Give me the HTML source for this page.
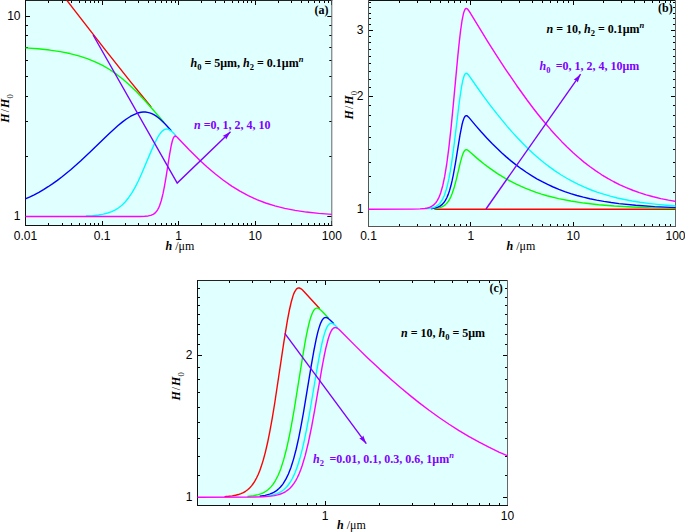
<!DOCTYPE html><html><head><meta charset="utf-8"><style>html,body{margin:0;padding:0;background:#fff;overflow:hidden;}svg{display:block}</style></head><body><svg width="685" height="532" viewBox="0 0 685 532">
<style>.tl{font-family:"Liberation Sans",sans-serif;font-size:12px;fill:#000}.ax{font-family:"Liberation Serif",serif;font-size:12px;fill:#000}.lg{font-family:"Liberation Serif",serif;font-size:12px;font-weight:bold;fill:#000}.pl{font-family:"Liberation Serif",serif;font-size:12px;font-weight:bold;fill:#8000ff}.i{font-style:italic}</style>
<rect width="685" height="532" fill="#fff"/>
<clipPath id="ca"><rect x="25.5" y="0.5" width="306.3" height="225.0"/></clipPath>
<rect x="25.5" y="0.5" width="306.3" height="225.0" fill="#e0ffff"/>
<path d="M25.50,225.5v-4.5M25.50,0.5v4.5M102.50,225.5v-4.5M102.50,0.5v4.5M178.50,225.5v-4.5M178.50,0.5v4.5M255.50,225.5v-4.5M255.50,0.5v4.5M331.50,225.5v-4.5M331.50,0.5v4.5M48.50,225.5v-2.5M48.50,0.5v2.5M62.50,225.5v-2.5M62.50,0.5v2.5M71.50,225.5v-2.5M71.50,0.5v2.5M79.50,225.5v-2.5M79.50,0.5v2.5M85.50,225.5v-2.5M85.50,0.5v2.5M90.50,225.5v-2.5M90.50,0.5v2.5M94.50,225.5v-2.5M94.50,0.5v2.5M98.50,225.5v-2.5M98.50,0.5v2.5M125.50,225.5v-2.5M125.50,0.5v2.5M138.50,225.5v-2.5M138.50,0.5v2.5M148.50,225.5v-2.5M148.50,0.5v2.5M155.50,225.5v-2.5M155.50,0.5v2.5M161.50,225.5v-2.5M161.50,0.5v2.5M166.50,225.5v-2.5M166.50,0.5v2.5M171.50,225.5v-2.5M171.50,0.5v2.5M175.50,225.5v-2.5M175.50,0.5v2.5M201.50,225.5v-2.5M201.50,0.5v2.5M215.50,225.5v-2.5M215.50,0.5v2.5M224.50,225.5v-2.5M224.50,0.5v2.5M232.50,225.5v-2.5M232.50,0.5v2.5M238.50,225.5v-2.5M238.50,0.5v2.5M243.50,225.5v-2.5M243.50,0.5v2.5M247.50,225.5v-2.5M247.50,0.5v2.5M251.50,225.5v-2.5M251.50,0.5v2.5M278.50,225.5v-2.5M278.50,0.5v2.5M291.50,225.5v-2.5M291.50,0.5v2.5M301.50,225.5v-2.5M301.50,0.5v2.5M308.50,225.5v-2.5M308.50,0.5v2.5M314.50,225.5v-2.5M314.50,0.5v2.5M319.50,225.5v-2.5M319.50,0.5v2.5M324.50,225.5v-2.5M324.50,0.5v2.5M328.50,225.5v-2.5M328.50,0.5v2.5M25.5,216.50h4.5M331.8,216.50h-4.5M25.5,16.50h4.5M331.8,16.50h-4.5M25.5,156.50h2.5M331.8,156.50h-2.5M25.5,121.50h2.5M331.8,121.50h-2.5M25.5,96.50h2.5M331.8,96.50h-2.5M25.5,76.50h2.5M331.8,76.50h-2.5M25.5,60.50h2.5M331.8,60.50h-2.5M25.5,47.50h2.5M331.8,47.50h-2.5M25.5,35.50h2.5M331.8,35.50h-2.5M25.5,25.50h2.5M331.8,25.50h-2.5" stroke="#000" stroke-width="1" fill="none"/>
<path d="M25.0,0.5H332.3" stroke="#222" stroke-width="1"/>
<path d="M331.8,0.0V226.0" stroke="#666" stroke-width="1"/>
<path d="M25.0,225.5H332.3" stroke="#111" stroke-width="1"/>
<path d="M25.5,0.0V226.0" stroke="#111" stroke-width="1"/>
<g clip-path="url(#ca)" fill="none" stroke-width="1.4" stroke-linejoin="round">
<polyline stroke="#ff0000" points="24.73,-54.48 72.65,7.83 105.28,49.85 130.63,81.89 151.15,107.05"/>
<polyline stroke="#00ff00" points="24.73,47.81 37.97,48.80 49.67,50.07 60.24,51.64 69.88,53.56 78.81,55.86 87.22,58.60 95.13,61.79 102.62,65.46 109.59,69.52 116.47,74.19 123.24,79.47 130.01,85.42 136.58,91.79 143.66,99.23 151.25,107.67 164.28,122.60"/>
<polyline stroke="#0000ff" points="24.73,199.23 29.45,197.11 34.17,194.79 38.89,192.27 43.51,189.59 48.13,186.71 52.75,183.63 57.36,180.35 62.08,176.79 71.01,169.52 80.55,161.08 89.58,152.60 108.77,134.02 117.49,126.06 122.21,122.14 126.42,119.00 130.32,116.48 134.01,114.52 136.37,113.52 138.73,112.76 140.99,112.27 143.25,112.03 145.40,112.05 147.56,112.33 149.71,112.87 151.77,113.64 153.82,114.66 155.87,115.91 158.03,117.46 160.18,119.24 164.90,123.74 171.36,130.68"/>
<polyline stroke="#00ffff" points="85.89,216.00 92.66,215.58 98.41,214.97 103.33,214.13 107.75,213.02 111.75,211.60 115.34,209.87 118.73,207.73 121.91,205.19 125.40,201.69 128.78,197.48 132.06,192.59 135.35,186.86 138.32,180.99 141.50,174.08 151.15,151.14 154.33,143.96 157.61,137.49 159.05,135.10 160.49,133.05 162.23,131.09 163.98,129.75 165.62,129.11 166.44,129.02 167.36,129.08 169.00,129.63 170.85,130.80 172.90,132.59 175.78,135.57"/>
<polyline stroke="#ff00ff" points="24.73,216.50 139.76,216.44 144.69,216.28 148.17,215.94 150.84,215.35 153.00,214.46 154.33,213.60 155.46,212.61 156.59,211.31 157.61,209.79 158.64,207.87 159.56,205.74 161.31,200.49 162.95,193.88 164.59,185.62 166.13,176.57 169.62,154.43 171.36,144.98 172.39,140.77 173.31,138.08 174.24,136.52 174.75,136.10 175.26,135.97 176.08,136.24 177.21,137.17 189.12,149.75 199.48,160.00 207.38,167.26 215.08,173.81 223.39,180.28 231.70,186.09 239.91,191.15 248.22,195.62 256.84,199.58 265.66,202.98 274.90,205.89 284.75,208.37 295.11,210.40 306.40,212.07 318.71,213.40 332.57,214.43"/>
</g>
<text x="25.50" y="240" class="tl" text-anchor="middle">0.01</text>
<text x="102.08" y="240" class="tl" text-anchor="middle">0.1</text>
<text x="178.65" y="240" class="tl" text-anchor="middle">1</text>
<text x="255.23" y="240" class="tl" text-anchor="middle">10</text>
<text x="331.80" y="240" class="tl" text-anchor="middle">100</text>
<text x="20.50" y="220.00" class="tl" text-anchor="end">1</text>
<text x="20.50" y="20.00" class="tl" text-anchor="end">10</text>
<clipPath id="cb"><rect x="368.5" y="0.5" width="307.0" height="226.0"/></clipPath>
<rect x="368.5" y="0.5" width="307.0" height="226.0" fill="#e0ffff"/>
<path d="M368.50,226.5v-4.5M368.50,0.5v4.5M470.50,226.5v-4.5M470.50,0.5v4.5M573.50,226.5v-4.5M573.50,0.5v4.5M675.50,226.5v-4.5M675.50,0.5v4.5M399.50,226.5v-2.5M399.50,0.5v2.5M417.50,226.5v-2.5M417.50,0.5v2.5M430.50,226.5v-2.5M430.50,0.5v2.5M440.50,226.5v-2.5M440.50,0.5v2.5M448.50,226.5v-2.5M448.50,0.5v2.5M454.50,226.5v-2.5M454.50,0.5v2.5M460.50,226.5v-2.5M460.50,0.5v2.5M466.50,226.5v-2.5M466.50,0.5v2.5M501.50,226.5v-2.5M501.50,0.5v2.5M519.50,226.5v-2.5M519.50,0.5v2.5M532.50,226.5v-2.5M532.50,0.5v2.5M542.50,226.5v-2.5M542.50,0.5v2.5M550.50,226.5v-2.5M550.50,0.5v2.5M557.50,226.5v-2.5M557.50,0.5v2.5M563.50,226.5v-2.5M563.50,0.5v2.5M568.50,226.5v-2.5M568.50,0.5v2.5M603.50,226.5v-2.5M603.50,0.5v2.5M621.50,226.5v-2.5M621.50,0.5v2.5M634.50,226.5v-2.5M634.50,0.5v2.5M644.50,226.5v-2.5M644.50,0.5v2.5M652.50,226.5v-2.5M652.50,0.5v2.5M659.50,226.5v-2.5M659.50,0.5v2.5M665.50,226.5v-2.5M665.50,0.5v2.5M670.50,226.5v-2.5M670.50,0.5v2.5M368.5,209.50h4.5M675.5,209.50h-4.5M368.5,96.50h4.5M675.5,96.50h-4.5M368.5,30.50h4.5M675.5,30.50h-4.5M368.5,192.50h2.5M675.5,192.50h-2.5M368.5,176.50h2.5M675.5,176.50h-2.5M368.5,162.50h2.5M675.5,162.50h-2.5M368.5,149.50h2.5M675.5,149.50h-2.5M368.5,137.50h2.5M675.5,137.50h-2.5M368.5,126.50h2.5M675.5,126.50h-2.5M368.5,115.50h2.5M675.5,115.50h-2.5M368.5,105.50h2.5M675.5,105.50h-2.5M368.5,87.50h2.5M675.5,87.50h-2.5M368.5,79.50h2.5M675.5,79.50h-2.5M368.5,71.50h2.5M675.5,71.50h-2.5M368.5,63.50h2.5M675.5,63.50h-2.5M368.5,56.50h2.5M675.5,56.50h-2.5M368.5,49.50h2.5M675.5,49.50h-2.5M368.5,42.50h2.5M675.5,42.50h-2.5M368.5,36.50h2.5M675.5,36.50h-2.5M368.5,24.50h2.5M675.5,24.50h-2.5M368.5,18.50h2.5M675.5,18.50h-2.5M368.5,13.50h2.5M675.5,13.50h-2.5M368.5,7.50h2.5M675.5,7.50h-2.5M368.5,2.50h2.5M675.5,2.50h-2.5M368.5,-2.50h2.5M675.5,-2.50h-2.5" stroke="#000" stroke-width="1" fill="none"/>
<path d="M368.0,0.5H676.0" stroke="#111" stroke-width="1"/>
<path d="M675.5,0.0V227.0" stroke="#666" stroke-width="1"/>
<path d="M368.0,226.5H676.0" stroke="#555" stroke-width="1"/>
<path d="M368.5,0.0V227.0" stroke="#555" stroke-width="1"/>
<g clip-path="url(#cb)" fill="none" stroke-width="1.4" stroke-linejoin="round">
<polyline stroke="#ff0000" points="434.44,209.20 676.52,209.20"/>
<polyline stroke="#00ff00" points="434.44,208.69 437.32,208.29 439.69,207.73 441.85,206.95 443.71,205.95 445.46,204.63 447.00,203.06 448.45,201.14 449.79,198.90 451.02,196.35 452.16,193.58 454.42,186.66 456.48,178.86 460.50,161.92 462.35,155.41 463.38,152.74 464.31,151.04 465.24,150.04 465.75,149.76 466.27,149.67 467.30,149.92 468.53,150.73 479.25,160.10 484.09,164.00 488.93,167.66 497.48,173.56 506.14,178.84 510.87,181.44 515.72,183.91 520.66,186.23 525.71,188.41 530.86,190.44 536.11,192.33 541.47,194.08 547.03,195.72 558.57,198.61 570.83,201.04 584.12,203.07 598.54,204.72 614.40,206.04 632.23,207.07 652.62,207.85 676.52,208.41"/>
<polyline stroke="#0000ff" points="431.04,208.69 434.44,208.18 437.22,207.42 439.59,206.35 441.65,204.93 443.50,203.08 445.25,200.64 446.80,197.78 448.24,194.36 449.58,190.43 450.82,186.06 452.05,180.94 453.29,175.05 455.45,163.08 459.98,135.10 461.94,125.03 463.08,120.68 464.11,117.88 465.14,116.24 465.65,115.83 466.27,115.65 466.78,115.73 467.30,115.98 468.64,117.16 475.95,125.87 481.10,131.79 486.77,138.00 492.33,143.78 501.60,152.72 506.24,156.86 510.98,160.86 516.03,164.87 521.18,168.70 526.33,172.27 531.58,175.65 536.83,178.78 542.19,181.71 547.65,184.45 553.21,187.00 558.88,189.36 564.75,191.57 570.73,193.59 576.91,195.46 583.29,197.17 589.89,198.72 596.69,200.13 603.79,201.41 611.21,202.56 618.94,203.58 635.73,205.31 654.68,206.64 676.52,207.62"/>
<polyline stroke="#00ffff" points="425.58,208.86 430.01,208.37 433.41,207.55 436.19,206.33 438.56,204.62 439.69,203.49 440.72,202.23 442.68,199.07 444.43,195.17 446.08,190.32 447.52,184.95 448.96,178.38 450.30,171.14 451.74,162.10 454.22,143.89 459.26,102.35 461.53,86.83 462.77,80.55 463.90,76.48 464.41,75.19 465.03,74.10 465.65,73.47 466.27,73.26 466.78,73.35 467.40,73.73 468.84,75.32 477.50,87.76 483.78,96.54 490.48,105.55 496.97,113.93 507.17,126.35 512.21,132.13 517.16,137.55 522.62,143.26 528.08,148.66 533.43,153.66 538.89,158.45 544.35,162.94 549.81,167.12 555.38,171.09 560.94,174.75 566.71,178.24 572.48,181.44 578.35,184.40 584.43,187.18 590.61,189.73 597.00,192.08 603.49,194.20 610.28,196.17 617.29,197.95 624.50,199.54 632.12,200.98 640.06,202.27 648.40,203.42 657.16,204.42 666.53,205.31 676.52,206.08"/>
<polyline stroke="#ff00ff" points="367.48,209.20 412.80,209.14 420.01,208.92 424.96,208.45 427.43,207.97 429.49,207.34 431.35,206.51 432.99,205.46 434.54,204.13 435.98,202.49 437.22,200.68 438.45,198.42 439.59,195.87 440.72,192.78 442.78,185.49 444.74,176.19 446.70,164.22 448.76,148.59 450.82,130.05 452.88,109.16 457.82,56.11 459.26,42.08 460.50,31.45 461.94,21.24 463.38,13.91 464.11,11.42 464.83,9.71 465.55,8.73 466.27,8.41 466.89,8.57 467.50,9.04 469.15,11.21 488.52,42.80 496.97,56.10 505.11,68.55 516.44,85.22 527.25,100.28 533.23,108.21 539.10,115.71 544.87,122.77 550.54,129.41 556.20,135.74 561.76,141.64 567.33,147.23 572.89,152.50 578.56,157.54 584.32,162.34 590.09,166.80 595.86,170.92 601.73,174.79 607.71,178.40 613.79,181.75 619.97,184.83 626.25,187.66 632.74,190.27 639.33,192.63 646.24,194.82 653.34,196.79 660.76,198.58 668.49,200.18 676.52,201.61"/>
</g>
<text x="368.50" y="240" class="tl" text-anchor="middle">0.1</text>
<text x="470.83" y="240" class="tl" text-anchor="middle">1</text>
<text x="573.17" y="240" class="tl" text-anchor="middle">10</text>
<text x="675.50" y="240" class="tl" text-anchor="middle">100</text>
<text x="363.50" y="212.70" class="tl" text-anchor="end">1</text>
<text x="363.50" y="99.81" class="tl" text-anchor="end">2</text>
<text x="363.50" y="33.78" class="tl" text-anchor="end">3</text>
<clipPath id="cc"><rect x="197.5" y="280.5" width="310.0" height="225.0"/></clipPath>
<rect x="197.5" y="280.5" width="310.0" height="225.0" fill="#e0ffff"/>
<path d="M325.50,505.5v-4.5M325.50,280.5v4.5M507.50,505.5v-4.5M507.50,280.5v4.5M197.50,505.5v-2.5M197.50,280.5v2.5M229.50,505.5v-2.5M229.50,280.5v2.5M252.50,505.5v-2.5M252.50,280.5v2.5M270.50,505.5v-2.5M270.50,280.5v2.5M284.50,505.5v-2.5M284.50,280.5v2.5M296.50,505.5v-2.5M296.50,280.5v2.5M307.50,505.5v-2.5M307.50,280.5v2.5M316.50,505.5v-2.5M316.50,280.5v2.5M379.50,505.5v-2.5M379.50,280.5v2.5M412.50,505.5v-2.5M412.50,280.5v2.5M434.50,505.5v-2.5M434.50,280.5v2.5M452.50,505.5v-2.5M452.50,280.5v2.5M467.50,505.5v-2.5M467.50,280.5v2.5M479.50,505.5v-2.5M479.50,280.5v2.5M489.50,505.5v-2.5M489.50,280.5v2.5M499.50,505.5v-2.5M499.50,280.5v2.5M197.5,497.50h4.5M507.5,497.50h-4.5M197.5,355.50h4.5M507.5,355.50h-4.5M197.5,475.50h2.5M507.5,475.50h-2.5M197.5,456.50h2.5M507.5,456.50h-2.5M197.5,438.50h2.5M507.5,438.50h-2.5M197.5,422.50h2.5M507.5,422.50h-2.5M197.5,407.50h2.5M507.5,407.50h-2.5M197.5,392.50h2.5M507.5,392.50h-2.5M197.5,379.50h2.5M507.5,379.50h-2.5M197.5,367.50h2.5M507.5,367.50h-2.5M197.5,344.50h2.5M507.5,344.50h-2.5M197.5,334.50h2.5M507.5,334.50h-2.5M197.5,324.50h2.5M507.5,324.50h-2.5M197.5,314.50h2.5M507.5,314.50h-2.5M197.5,305.50h2.5M507.5,305.50h-2.5M197.5,297.50h2.5M507.5,297.50h-2.5M197.5,288.50h2.5M507.5,288.50h-2.5M197.5,280.50h2.5M507.5,280.50h-2.5" stroke="#000" stroke-width="1" fill="none"/>
<path d="M197.0,280.5H508.0" stroke="#222" stroke-width="1"/>
<path d="M507.5,280.0V506.0" stroke="#666" stroke-width="1"/>
<path d="M197.0,505.5H508.0" stroke="#111" stroke-width="1"/>
<path d="M197.5,280.0V506.0" stroke="#111" stroke-width="1"/>
<g clip-path="url(#cc)" fill="none" stroke-width="1.4" stroke-linejoin="round">
<polyline stroke="#ff0000" points="224.53,496.64 228.71,496.30 232.27,495.86 235.51,495.26 238.33,494.54 240.95,493.64 243.35,492.55 245.55,491.27 247.64,489.74 249.62,487.95 251.50,485.87 253.28,483.51 254.96,480.89 256.52,478.02 258.09,474.71 259.66,470.90 261.12,466.86 263.32,459.84 265.51,451.59 267.61,442.52 269.80,431.73 272.21,418.49 274.71,403.26 283.81,342.44 287.37,320.66 289.35,310.25 291.23,302.00 293.01,295.88 293.95,293.36 294.79,291.53 296.25,289.28 296.98,288.58 297.72,288.15 298.45,287.95 299.28,287.99 300.12,288.28 301.06,288.83 302.53,290.03 304.41,291.93 319.78,308.78"/>
<polyline stroke="#00ff00" points="247.43,496.45 253.49,495.70 258.41,494.60 260.60,493.88 262.59,493.05 264.47,492.09 266.25,490.99 267.92,489.74 269.59,488.25 271.16,486.61 272.62,484.82 274.09,482.75 275.45,480.55 278.06,475.45 279.52,472.02 280.99,468.15 283.71,459.64 286.42,449.28 289.04,437.52 291.44,425.20 294.06,410.36 302.21,359.34 305.03,342.72 306.60,334.41 308.07,327.48 309.43,321.87 310.78,317.17 312.35,312.97 313.92,310.11 314.65,309.22 315.49,308.53 316.33,308.16 317.16,308.09 317.89,308.23 318.73,308.59 320.72,310.06 323.02,312.32 328.45,318.10"/>
<polyline stroke="#0000ff" points="259.66,496.19 265.10,495.34 269.70,494.08 271.79,493.27 273.67,492.36 275.45,491.31 277.12,490.12 278.69,488.80 280.26,487.25 281.72,485.56 283.18,483.61 285.90,479.17 288.41,473.95 291.02,467.18 293.64,458.85 296.15,449.26 298.76,437.59 301.06,425.96 303.47,412.61 310.99,367.06 313.71,351.51 316.43,337.97 317.68,332.68 318.94,328.12 320.40,323.81 321.87,320.64 322.60,319.48 323.33,318.59 324.06,317.97 324.90,317.57 325.63,317.45 326.47,317.56 327.30,317.88 328.24,318.45 330.34,320.23 333.89,323.86"/>
<polyline stroke="#00ffff" points="267.71,495.94 272.73,494.99 277.02,493.63 280.67,491.85 282.35,490.77 284.02,489.48 285.59,488.05 287.05,486.49 289.87,482.76 292.49,478.27 294.89,473.09 297.40,466.43 299.91,458.33 302.32,449.12 304.72,438.48 306.92,427.58 309.32,414.51 316.64,371.22 319.15,357.13 321.87,343.76 323.12,338.52 324.27,334.34 325.74,329.97 327.09,326.90 328.56,324.69 329.29,323.98 330.02,323.53 330.75,323.30 331.49,323.29 332.32,323.49 333.16,323.89 335.04,325.30 337.86,328.03"/>
<polyline stroke="#ff00ff" points="195.68,497.20 251.71,497.08 262.80,496.77 270.64,496.15 274.40,495.59 277.64,494.89 280.57,493.99 283.29,492.86 285.69,491.53 287.99,489.91 290.19,487.95 292.17,485.75 293.95,483.39 295.73,480.58 297.40,477.47 299.08,473.86 300.64,469.97 302.21,465.54 305.24,455.38 308.38,442.49 311.62,426.75 314.76,409.56 322.08,367.05 324.17,356.02 326.05,347.21 328.24,338.73 329.39,335.19 330.44,332.56 331.49,330.50 332.53,329.00 333.68,327.98 334.83,327.54 335.88,327.59 336.92,327.98 338.18,328.78 339.64,330.01 355.64,346.12 367.45,357.67 379.89,369.36 392.02,380.26 401.32,388.28 410.53,395.89 419.62,403.11 428.72,410.00 438.75,417.22 448.69,423.97 458.62,430.32 468.65,436.33 478.69,441.93 488.83,447.19 498.97,452.05 509.32,456.62"/>
</g>
<text x="325.04" y="519.5" class="tl" text-anchor="middle">1</text>
<text x="507.50" y="519.5" class="tl" text-anchor="middle">10</text>
<text x="192.50" y="500.70" class="tl" text-anchor="end">1</text>
<text x="192.50" y="359.31" class="tl" text-anchor="end">2</text>
<path d="M93.1,35L177.2,183L230.5,131.8" stroke="#8000ff" stroke-width="1.4" fill="none"/>
<path d="M230.50,131.80L226.10,139.49L225.24,136.86L222.64,135.89Z" fill="#8000ff"/>
<path d="M486,209L580.6,74.2" stroke="#8000ff" stroke-width="1.4" fill="none"/>
<path d="M580.60,74.20L577.76,82.59L576.41,80.18L573.67,79.72Z" fill="#8000ff"/>
<path d="M284.8,333.3L366.3,443.7" stroke="#8000ff" stroke-width="1.4" fill="none"/>
<path d="M366.30,443.70L359.24,438.35L361.96,437.83L363.26,435.38Z" fill="#8000ff"/>
<text x="314.6" y="13.6" class="lg">(a)</text>
<text x="658" y="12.4" class="lg">(b)</text>
<text x="489.5" y="291.6" class="lg">(c)</text>
<text x="190.5" y="67" class="lg"><tspan class="i">h</tspan><tspan dy="3.4" font-size="8.5">0</tspan><tspan dy="-3.4"> = 5μm, </tspan><tspan class="i">h</tspan><tspan dy="3.4" font-size="8.5">2</tspan><tspan dy="-3.4"> = 0.1μm</tspan><tspan dy="-4.6" font-size="8.5" class="i">n</tspan></text>
<text x="194" y="128.5" class="pl"><tspan class="i">n</tspan> =0, 1, 2, 4, 10</text>
<text x="546.5" y="32.7" class="lg"><tspan class="i">n</tspan> = 10, <tspan class="i">h</tspan><tspan dy="3.4" font-size="8.5">2</tspan><tspan dy="-3.4"> = 0.1μm</tspan><tspan dy="-4.6" font-size="8.5" class="i">n</tspan></text>
<text x="539.5" y="70" class="pl"><tspan class="i">h</tspan><tspan dy="3.4" font-size="8.5">0</tspan><tspan dy="-3.4" dx="2.2"> =0, 1, 2, 4, 10μm</tspan></text>
<text x="401" y="337" class="lg"><tspan class="i">n</tspan> = 10, <tspan class="i">h</tspan><tspan dy="3.4" font-size="8.5">0</tspan><tspan dy="-3.4"> = 5μm</tspan></text>
<text x="313" y="463" class="pl"><tspan class="i">h</tspan><tspan dy="3.4" font-size="8.5">2</tspan><tspan dy="-3.4" dx="2.6"> =0.01, 0.1, 0.3, 0.6, 1μm</tspan><tspan dy="-4.6" font-size="8.5" class="i">n</tspan></text>
<text x="165.5" y="249.7" class="ax"><tspan font-weight="bold" font-style="italic">h</tspan> /μm</text>
<text x="506.6" y="249.7" class="ax"><tspan font-weight="bold" font-style="italic">h</tspan> /μm</text>
<text x="337.1" y="528.5" class="ax"><tspan font-weight="bold" font-style="italic">h</tspan> /μm</text>
<text transform="translate(9,122.7) rotate(-90)" class="ax"><tspan font-weight="bold" font-style="italic">H</tspan><tspan dx="1">/</tspan><tspan dx="0.9" font-weight="bold" font-style="italic">H</tspan><tspan dy="4" dx="0.3" font-size="8.5">0</tspan></text>
<text transform="translate(353,119.4) rotate(-90)" class="ax"><tspan font-weight="bold" font-style="italic">H</tspan><tspan dx="1">/</tspan><tspan dx="0.9" font-weight="bold" font-style="italic">H</tspan><tspan dy="4" dx="0.3" font-size="8.5">0</tspan></text>
<text transform="translate(180.2,400.6) rotate(-90)" class="ax"><tspan font-weight="bold" font-style="italic">H</tspan><tspan dx="1">/</tspan><tspan dx="0.9" font-weight="bold" font-style="italic">H</tspan><tspan dy="4" dx="0.3" font-size="8.5">0</tspan></text>
</svg></body></html>
